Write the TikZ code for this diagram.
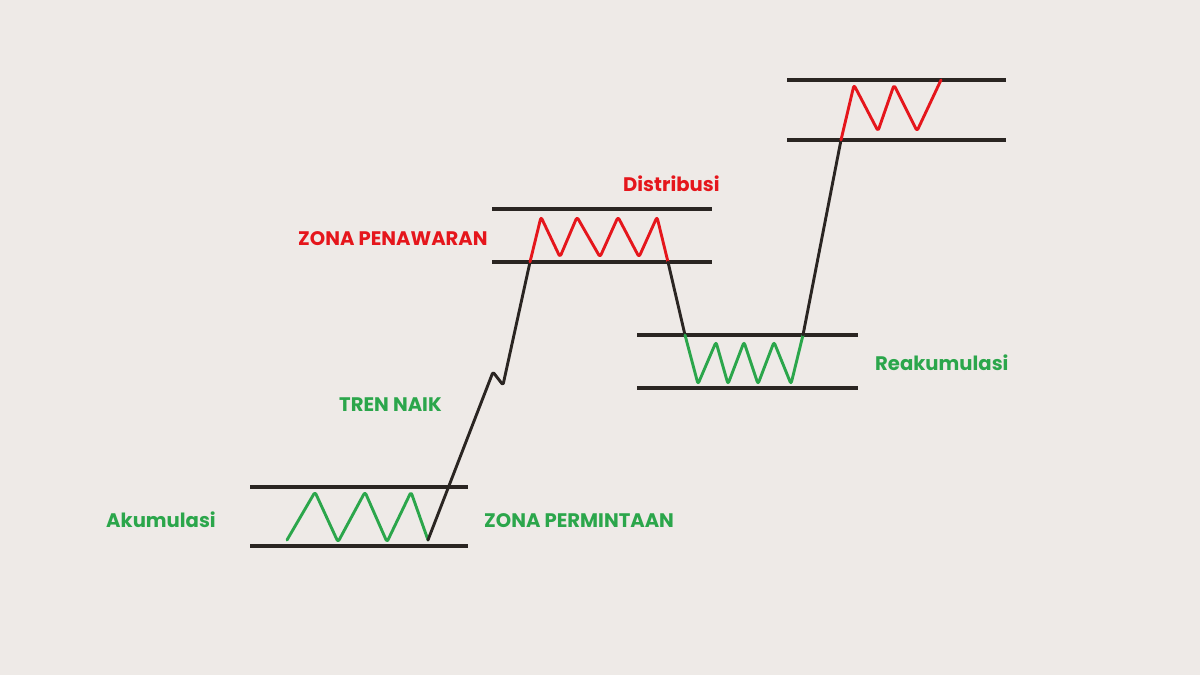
\documentclass[tikz,border=0pt]{standalone}
\usepackage{fontspec}
\setmainfont{Poppins}
\definecolor{bg}{HTML}{EEEAE7}
\definecolor{zred}{HTML}{E5161C}
\definecolor{zgreen}{HTML}{2BA64B}
\definecolor{zblack}{HTML}{2A2522}
\tikzset{
  level/.style={draw=zblack, line width=3.2pt},
  trend/.style={draw=zblack, line width=2.9pt, line join=round, line cap=round, rounded corners=2pt},
  upwave/.style={draw=zgreen, line width=2.9pt, line join=round, line cap=round, rounded corners=2.5pt},
  dnwave/.style={draw=zred, line width=2.9pt, line join=round, line cap=round, rounded corners=2.5pt},
  gtxt/.style={text=zgreen, font=\fontsize{19.6}{21}\selectfont\bfseries, anchor=base west, inner sep=0pt},
  rtxt/.style={text=zred, font=\fontsize{19.6}{21}\selectfont\bfseries, anchor=base west, inner sep=0pt}
}
\begin{document}
\begin{tikzpicture}[x=1pt,y=-1pt]
\fill[bg] (0,0) rectangle (1200,675);
\useasboundingbox (0,0) rectangle (1200,675);
% levels
\coordinate (a1) at (250,487); \coordinate (a2) at (468,487);
\coordinate (a3) at (250,546); \coordinate (a4) at (468,546);
\coordinate (d1) at (492,209); \coordinate (d2) at (712,209);
\coordinate (d3) at (492,262); \coordinate (d4) at (712,262);
\coordinate (r1) at (637,335); \coordinate (r2) at (858,335);
\coordinate (r3) at (637,388); \coordinate (r4) at (858,388);
\coordinate (t1) at (787,80); \coordinate (t2) at (1006,80);
\coordinate (t3) at (787,140); \coordinate (t4) at (1006,140);
\draw[level] (a1) -- (a2); \draw[level] (a3) -- (a4);
\draw[level] (d1) -- (d2); \draw[level] (d3) -- (d4);
\draw[level] (r1) -- (r2); \draw[level] (r3) -- (r4);
\draw[level] (t1) -- (t2); \draw[level] (t3) -- (t4);
% key points
\coordinate (p0) at (287,540);
\coordinate (p1) at (428,540);
\coordinate (w1) at (493,372);
\coordinate (w2) at (503,385);
\coordinate (p2) at (530,262);
\coordinate (p3) at (668,262);
\coordinate (p4) at (685,335);
\coordinate (p5) at (803,335);
\coordinate (p6) at (841,140);
\coordinate (p7) at (941,80);
% accumulation wave
\draw[upwave] (p0) -- (315,492) -- (338,542) -- (365,492) -- (387,542) -- (411,492) -- (p1);
% trend up
\draw[trend] (p1) -- (w1) -- (w2) -- (p2);
% distribution wave
\draw[dnwave] (p2) -- (541,217) -- (560,257) -- (577,217) -- (600,257) -- (618,217) -- (639,257) -- (657,217) -- (p3);
% drop
\draw[trend] (p3) -- (p4);
% reaccumulation wave
\draw[upwave] (p4) -- (698,384) -- (716,342) -- (728,384) -- (744,342) -- (758,384) -- (774,342) -- (791,384) -- (p5);
% trend up 2
\draw[trend] (p5) -- (p6);
% top wave
\draw[dnwave] (p6) -- (854,85) -- (878,131) -- (894,85) -- (917,131) -- (p7);
% labels
\node[rtxt] (dist) at (623,191.5) {Distribusi};
\node[rtxt] (zpen) at (298,245) {ZONA PENAWARAN};
\node[gtxt] (reak) at (875,370) {Reakumulasi};
\node[gtxt] (tren) at (339,411) {TREN NAIK};
\node[gtxt] (akum) at (106,527) {Akumulasi};
\node[gtxt] (zper) at (484,527) {ZONA PERMINTAAN};
\end{tikzpicture}
\end{document}
